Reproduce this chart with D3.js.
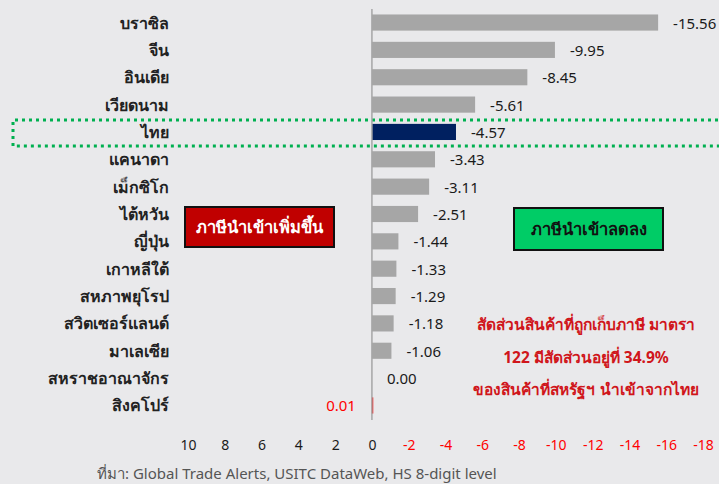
<!DOCTYPE html>
<html lang="th">
<head>
  <meta charset="utf-8">
  <title>ภาษีนำเข้า</title>
  <script src="https://cdn.jsdelivr.net/npm/d3@7"></script>
  <style>
    body {
      margin: 0;
      background: #e9e9eb;
    }
    svg text {
      font-family: "Noto Sans", "DejaVu Sans", sans-serif;
    }
  </style>
</head>
<body>
  <svg id="chart" width="719" height="484"></svg>

  <script>
    //
    // Data
    //
    var countries = ['บราซิล', 'จีน', 'อินเดีย', 'เวียดนาม', 'ไทย', 'แคนาดา', 'เม็กซิโก', 'ไต้หวัน',
      'ญี่ปุ่น', 'เกาหลีใต้', 'สหภาพยุโรป', 'สวิตเซอร์แลนด์', 'มาเลเซีย', 'สหราชอาณาจักร', 'สิงคโปร์']
    var values = [-15.56, -9.95, -8.45, -5.61, -4.57, -3.43, -3.11, -2.51,
      -1.44, -1.33, -1.29, -1.18, -1.06, 0.00, 0.01]
    var tickValues = [10, 8, 6, 4, 2, 0, -2, -4, -6, -8, -10, -12, -14, -16, -18]
    var noteLines = ['สัดส่วนสินค้าที่ถูกเก็บภาษี มาตรา', '122 มีสัดส่วนอยู่ที่ 34.9%', 'ของสินค้าที่สหรัฐฯ นำเข้าจากไทย']
    var highlight = 'ไทย'

    // colors
    var colorBar = '#a6a6a6'
    var colorThai = '#002060'
    var colorRed = '#c00000'
    var colorGreen = '#00cc66'
    var colorTickNeg = '#ff0000'

    // plain hyphen instead of unicode minus
    function fmt(spec) {
      var f = d3.format(spec)
      return function(v) { return f(v).replace('\u2212', '-') }
    }

    var svg = d3.select('#chart')

    var x = d3.scaleLinear().domain([10, -18]).range([188, 703])
    var y = d3.scaleBand().domain(countries).range([9, 419]).paddingInner(0.41).paddingOuter(0.2)

    var rows = countries.map(function(c, i) {
      return { name: c, value: values[i] }
    })

    // highlight box around Thailand (dotted)
    var ty = y(highlight)
    svg.append('path')
      .attr('d', 'M725,' + (ty - 4) + 'H13V' + (ty + y.bandwidth() + 6) + 'H725')
      .attr('fill', 'none')
      .attr('stroke', '#00b050')
      .attr('stroke-width', 3)
      .attr('stroke-dasharray', '3,4')

    // bars
    svg.selectAll('rect.bar')
      .data(rows)
      .enter().append('rect')
      .attr('class', 'bar')
      .attr('x', function(d) { return Math.min(x(d.value), x(0)) })
      .attr('y', function(d) { return y(d.name) })
      .attr('width', function(d) { return d.value > 0 ? Math.max(1.5, x(0) - x(d.value)) : x(d.value) - x(0) })
      .attr('height', y.bandwidth())
      .attr('fill', function(d) {
        if (d.name === highlight) return colorThai
        return d.value > 0 ? '#ff0000' : colorBar
      })

    // zero line
    svg.append('line')
      .attr('x1', x(0)).attr('x2', x(0))
      .attr('y1', 9).attr('y2', 420)
      .attr('stroke', '#a6a6a6')
      .attr('stroke-width', 1.5)

    // value labels
    svg.selectAll('text.val')
      .data(rows)
      .enter().append('text')
      .attr('class', 'val')
      .attr('x', function(d) { return d.value > 0 ? x(0) - 16 : x(d.value) + 15 })
      .attr('y', function(d) { return y(d.name) + y.bandwidth() / 2 + 6 })
      .attr('text-anchor', function(d) { return d.value > 0 ? 'end' : 'start' })
      .attr('font-size', 15)
      .attr('fill', function(d) { return d.value > 0 ? '#ff0000' : '#1a1a1a' })
      .text(function(d) { return fmt('.2f')(d.value) })

    // category labels
    svg.selectAll('text.cat')
      .data(rows)
      .enter().append('text')
      .attr('class', 'cat')
      .attr('x', 169)
      .attr('y', function(d) { return y(d.name) + y.bandwidth() / 2 + 6 })
      .attr('text-anchor', 'end')
      .attr('font-size', 16)
      .attr('font-weight', 'bold')
      .attr('fill', '#222')
      .text(function(d) { return d.name })

    // x axis
    var axis = svg.append('g')
      .attr('transform', 'translate(0,436)')
      .call(d3.axisBottom(x).tickValues(tickValues).tickSize(0).tickPadding(4).tickFormat(fmt('d')))
    axis.select('.domain').remove()
    axis.selectAll('text')
      .attr('font-size', 14)
      .attr('fill', function(d) { return d < 0 ? colorTickNeg : '#1a1a1a' })
      .style('font-family', '"Noto Sans", "DejaVu Sans", sans-serif')

    // boxes
    function box(x0, y0, w, h, fill, color, label) {
      svg.append('rect')
        .attr('x', x0).attr('y', y0).attr('width', w).attr('height', h)
        .attr('fill', fill).attr('stroke', '#111').attr('stroke-width', 2)
      svg.append('text')
        .attr('x', x0 + w / 2).attr('y', y0 + h / 2 + 6)
        .attr('text-anchor', 'middle')
        .attr('font-size', 16.5)
        .attr('font-weight', 'bold')
        .attr('fill', color)
        .text(label)
    }
    box(185, 207, 149, 40, colorRed, '#fff', 'ภาษีนำเข้าเพิ่มขึ้น')
    box(514, 208, 149, 42, colorGreen, '#111', 'ภาษีนำเข้าลดลง')

    // note
    svg.selectAll('text.note')
      .data(noteLines)
      .enter().append('text')
      .attr('class', 'note')
      .attr('x', 586)
      .attr('y', function(d, i) { return 330 + i * 32.5 })
      .attr('text-anchor', 'middle')
      .attr('font-size', 15.5)
      .attr('font-weight', 'bold')
      .attr('fill', '#d0161b')
      .text(function(d) { return d })

    // source
    svg.append('text')
      .attr('x', 97).attr('y', 479)
      .attr('font-size', 15)
      .attr('fill', '#555')
      .text('ที่มา: Global Trade Alerts, USITC DataWeb, HS 8-digit level')
  </script>
</body>
</html>
